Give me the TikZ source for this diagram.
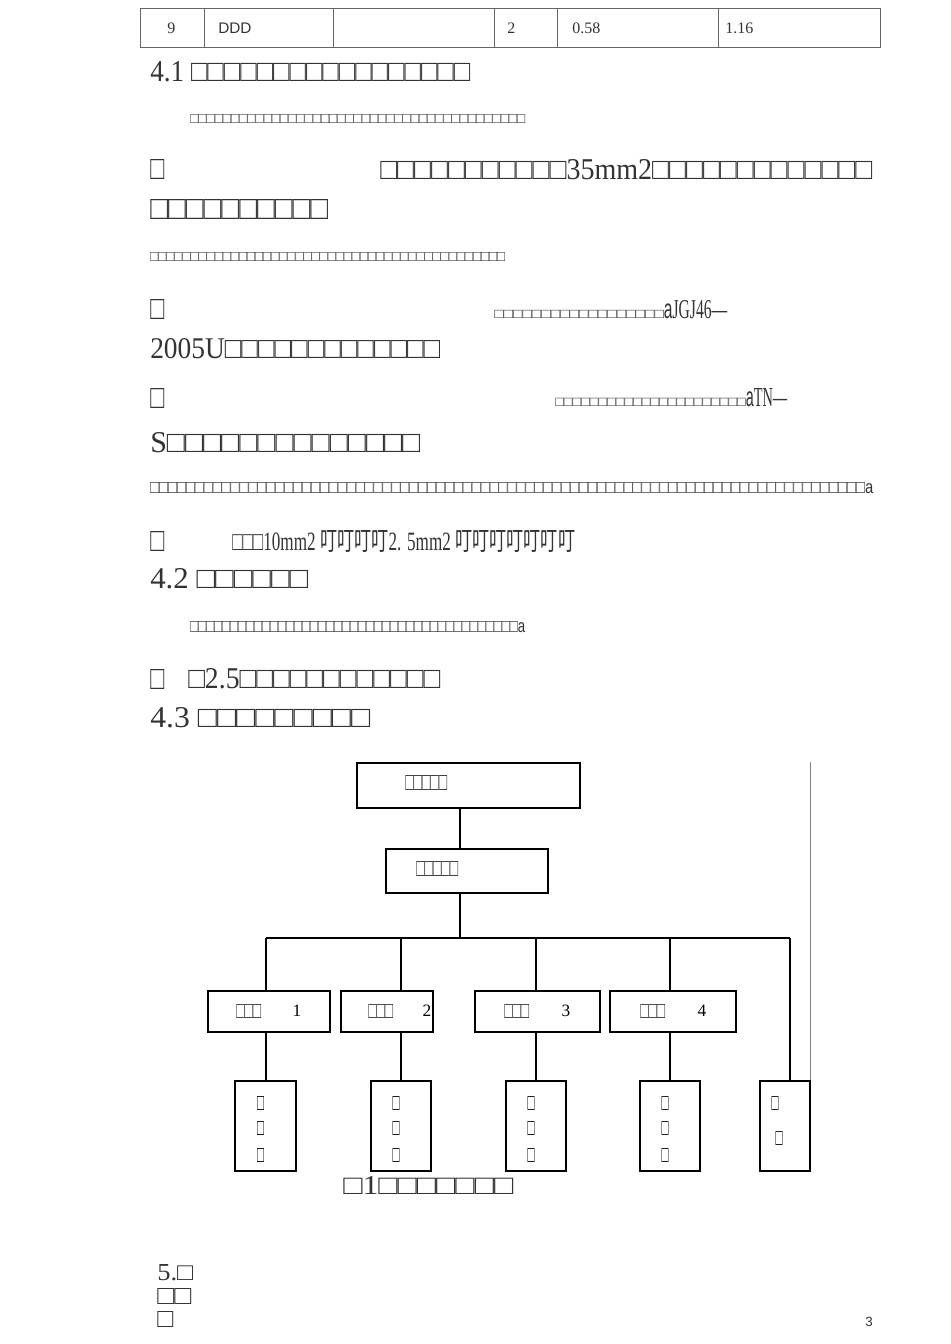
\documentclass[tikz,border=0pt]{standalone}
\usepackage{fontspec}
\setmainfont{Liberation Serif}
\newfontfamily\sansf{Liberation Sans}
\newfontfamily\cjk{Noto Sans CJK SC}
\newdimen\pxd \pxd=0.75pt
\newcommand\fl[3]{\resizebox{#1\pxd}{#2\pxd}{#3}}
\begin{document}
\begin{tikzpicture}[x=0.75pt,y=-0.75pt,
  ln/.style={anchor=west,inner sep=0pt,text=black!80},
  bx/.style={draw,line width=1pt},
  wire/.style={line width=0.9pt},
  dt/.style={inner sep=0pt}]
\useasboundingbox (0,0) rectangle (950,1344);
% table
\draw[line width=0.7pt,gray!80!black] (140,8) rectangle (880,47);
\foreach \x in {204,333,494,557,718} \draw[line width=0.7pt,gray!80!black] (\x,8)--(\x,47);
\node[ln,font=\fontsize{12}{12}\selectfont] (t1) at (167,28) {9};
\node[ln,font=\sansf\fontsize{11.5}{11.5}\selectfont] (t2) at (218,28) {DDD};
\node[ln,font=\fontsize{12}{12}\selectfont] (t3) at (507,28) {2};
\node[ln,font=\fontsize{12}{12}\selectfont] (t4) at (572,28) {0.58};
\node[ln,font=\fontsize{12}{12}\selectfont] (t5) at (725,28) {1.16};
% text lines
\node[ln] (l1) at (150,72) {\fl{320}{20}{4.1 □□□□□□□□□□□□□□□□□}};
\node[ln] (l2) at (190,119) {\fl{335}{9}{□□□□□□□□□□□□□□□□□□□□□□□□□□□□□□□□□□□□□□□□□}};
\node[ln] (l3a) at (150,170) {\fl{14}{20}{□}};
\node[ln] (l3b) at (380,170) {\fl{492}{20}{□□□□□□□□□□□35mm2□□□□□□□□□□□□□}};
\node[ln] (l4) at (150,210) {\fl{178}{20}{□□□□□□□□□□}};
\node[ln] (l5) at (150,257) {\fl{355}{9}{□□□□□□□□□□□□□□□□□□□□□□□□□□□□□□□□□□□□□□□□□□□□}};
\node[ln] (l6a) at (150,310) {\fl{14}{20}{□}};
\node[ln] (l6b) at (494,310) {\fl{233}{18}{\scalebox{1}[0.5]{□□□□□□□□□□□□□□□□□□}{\sansf a}JGJ46—}};
\node[ln] (l7) at (150,349) {\fl{290}{20}{2005U□□□□□□□□□□□□□}};
\node[ln] (l8a) at (150,398) {\fl{14}{20}{□}};
\node[ln] (l8b) at (555,398) {\fl{232}{18}{\scalebox{1}[0.5]{□□□□□□□□□□□□□□□□□□□□□□}{\sansf a}TN—}};
\node[ln] (l9) at (150,443) {\fl{270}{20}{S□□□□□□□□□□□□□□}};
\node[ln] (l10) at (150,488) {\fl{723}{11}{□□□□□□□□□□□□□□□□□□□□□□□□□□□□□□□□□□□□□□□□□□□□□□□□□□□□□□□□□□□□□□□□□□□□□□□□□□□□□□□□{\sansf a}}};
\node[ln] (l11a) at (150,541) {\fl{14}{20}{□}};
\node[ln] (l11b) at (232,541) {\fl{343}{20}{□□□10mm2 {\cjk 叮叮叮叮}2. 5mm2 {\cjk 叮叮叮叮叮叮叮}}};
\node[ln] (l12) at (150,579) {\fl{158}{20}{4.2 □□□□□□}};
\node[ln] (l13) at (190,627) {\fl{335}{11}{□□□□□□□□□□□□□□□□□□□□□□□□□□□□□□□□□□□□□□□□□{\sansf a}}};
\node[ln] (l14a) at (150,679) {\fl{14}{20}{□}};
\node[ln] (l14b) at (188,679) {\fl{252}{20}{□2.5□□□□□□□□□□□□}};
\node[ln] (l15) at (150,718) {\fl{220}{20}{4.3 □□□□□□□□□}};
% diagram
\node[bx,minimum width=223\pxd,minimum height=45\pxd,inner sep=0pt] (top) at (468.5,785.5) {};
\node[ln] (topt) at (405,783) {\fl{42}{15}{□□□□□}};
\node[bx,minimum width=162\pxd,minimum height=44\pxd,inner sep=0pt] (mid) at (467,871) {};
\node[ln] (midt) at (416,869) {\fl{42}{15}{□□□□□}};
\coordinate (bus) at (460,938);
\draw[wire] (top.south -| bus)--(mid.north -| bus);
\draw[wire] (mid.south -| bus)--(bus);
\draw[wire] (266,938)--(790,938);
\draw[line width=0.6pt,gray] (810,762)--(810,1081);
\foreach \a/\b/\t/\n/\nx/\c [count=\i] in {208/330/236/1/297/266,341/433/368/2/427/401,475/600/504/3/566/536,610/736/640/4/702/670}{
  \draw[bx] (\a,991) rectangle (\b,1032);
  \node[ln] (dt\i) at (\t,1011) {\fl{25}{14}{□□□}};
  \node[dt,font=\fontsize{13}{13}\selectfont] (dn\i) at (\nx,1011) {\n};
  \draw[wire] (\c,938)--(\c,991);
  \draw[wire] (\c,1032)--(\c,1081);
}
\foreach \a/\b [count=\i] in {235/296,371/431,506/566,640/700}{
  \draw[bx] (\a,1081) rectangle (\b,1171);
  \node[dt] (v\i a) at ({(\a+\b)/2-5},1103) {\fl{7}{14}{□}};
  \node[dt] (v\i b) at ({(\a+\b)/2-5},1128) {\fl{7}{14}{□}};
  \node[dt] (v\i c) at ({(\a+\b)/2-5},1155) {\fl{7}{14}{□}};
}
\draw[wire] (790,938)--(790,1081);
\draw[bx] (760,1081) rectangle (810,1171);
\node[dt] (v5a) at (775,1103) {\fl{7}{14}{□}};
\node[dt] (v5b) at (779,1138) {\fl{7}{14}{□}};
\node[ln] (cap) at (343,1185) {\fl{170}{18}{□1□□□□□□□}};
\node[ln] (s5) at (157,1273) {\fl{36}{16}{5.□}};
\node[ln] (s6) at (157,1296) {\fl{34}{16}{□□}};
\node[ln] (s7) at (157,1319) {\fl{16}{16}{□}};
\node[ln,font=\sansf\fontsize{10}{10}\selectfont] (pg) at (865,1322) {3};
\end{tikzpicture}
\end{document}
